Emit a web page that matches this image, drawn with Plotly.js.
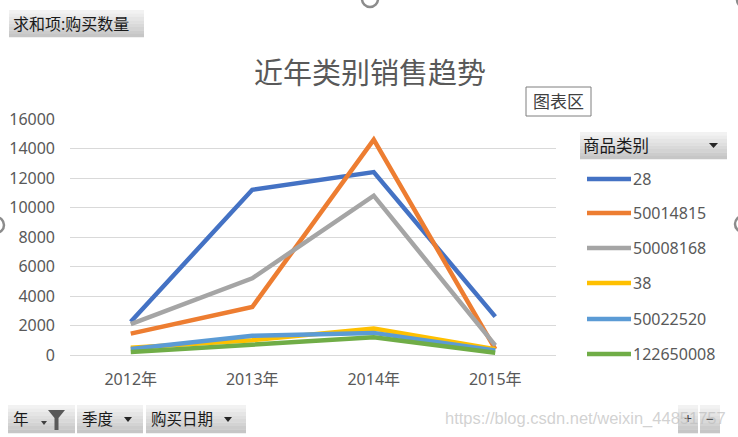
<!DOCTYPE html>
<html>
<head>
<meta charset="utf-8">
<script src="https://cdn.plot.ly/plotly-3.0.1.min.js"></script>
<style>html,body{margin:0;padding:0;background:#fff;}#chart{width:738px;height:437px;}</style>
</head>
<body>
<div id="chart"></div>
<script>
// ---- data ----
const categories = ['2012年', '2013年', '2014年', '2015年'];
const seriesNames = ['28', '50014815', '50008168', '38', '50022520', '122650008'];
const s28 = [2250, 11200, 12400, 2600];
const s50014815 = [1450, 3250, 14600, 400];
const s50008168 = [2100, 5200, 10800, 650];
const s38 = [500, 1000, 1800, 400];
const s50022520 = [400, 1300, 1500, 300];
const s122650008 = [200, 700, 1200, 150];
const seriesValues = [s28, s50014815, s50008168, s38, s50022520, s122650008];
const colors = ['#4472C4', '#ED7D31', '#A5A5A5', '#FFC000', '#5B9BD5', '#70AD47'];
const yTicks = [0, 2000, 4000, 6000, 8000, 10000, 12000, 14000, 16000];

const chartTitle = '近年类别销售趋势';
const fieldButton = '求和项:购买数量';
const legendTitle = '商品类别';
const bottomButtons = ['年', '季度', '购买日期'];
const tipText = '图表区';
const watermark = 'https://blog.csdn.net/weixin_44851757';

// ---- geometry helpers ----
const W = 738, H = 437, L = 70, R = 182, T = 119, B = 82;
const PW = W - L - R, PH = H - T - B;
const X = px => (px - L) / PW;
const Y = py => (H - B - py) / PH;
const FONT = 'Noto Sans, Noto Sans CJK SC, sans-serif';

const traces = seriesNames.map((n, i) => ({
  type: 'scatter', mode: 'lines', name: n,
  x: categories, y: seriesValues[i],
  line: {color: colors[i], width: 4.5},
  hoverinfo: 'skip', showlegend: false
}));

const shapes = [];
const annotations = [];

function hex(c){return [parseInt(c.slice(1,3),16),parseInt(c.slice(3,5),16),parseInt(c.slice(5,7),16)];}
function mix(a,b,t){const A=hex(a),B2=hex(b);return 'rgb('+A.map((v,k)=>Math.round(v+(B2[k]-v)*t)).join(',')+')';}
function btn(x0, y0, x1, y1) {
  const n = 8;
  for (let k = 0; k < n; k++) {
    const ya = y0 + (y1 - y0) * k / n, yb = y0 + (y1 - y0) * (k + 1) / n;
    shapes.push({type: 'rect', xref: 'paper', yref: 'paper', x0: X(x0), x1: X(x1), y0: Y(ya), y1: Y(yb + 0.3),
      fillcolor: mix('#f2f2f2', '#c6c6c6', k / (n - 1)), line: {width: 0}});
  }
}
function path(pts, color) {
  const d = pts.map((p, k) => (k ? 'L' : 'M') + X(p[0]) + ',' + Y(p[1])).join(' ') + ' Z';
  shapes.push({type: 'path', xref: 'paper', yref: 'paper', path: d, fillcolor: color, line: {width: 0}});
}
function text(t, px, py, size, color, anchor, fam) {
  annotations.push({text: t, xref: 'paper', yref: 'paper', x: X(px), y: Y(py), showarrow: false,
    xanchor: anchor || 'left', yanchor: 'middle', font: {family: fam || FONT, size: size, color: color}});
}
function circ(cx, cy, r) {
  shapes.push({type: 'circle', xref: 'paper', yref: 'paper', x0: X(cx - r), x1: X(cx + r), y0: Y(cy + r), y1: Y(cy - r),
    fillcolor: '#ffffff', line: {color: '#8c8c8c', width: 2.5}});
}

// top field button
btn(9, 10, 144, 37);
text(fieldButton, 11, 23.5, 16, '#1a1a1a');

// chart area tooltip
shapes.push({type: 'rect', xref: 'paper', yref: 'paper', x0: X(526), x1: X(591), y0: Y(116), y1: Y(87),
  fillcolor: '#ffffff', line: {color: '#7f7f7f', width: 1}});
text(tipText, 558.5, 101.5, 17, '#404040', 'center');

// legend header
btn(580, 132, 727, 159);
text(legendTitle, 581, 145.5, 16.5, '#1a1a1a');
path([[709, 143], [718, 143], [713.5, 148]], '#262626');

// legend items
const legendY = [179, 213, 248, 283, 319, 354];
seriesNames.forEach((n, i) => {
  shapes.push({type: 'line', xref: 'paper', yref: 'paper', x0: X(587), x1: X(631), y0: Y(legendY[i]), y1: Y(legendY[i]),
    line: {color: colors[i], width: 4.5}});
  text(n, 631, legendY[i], 16, '#595959');
});

// bottom buttons
btn(8, 405, 75, 433);
btn(77, 405, 143, 433);
btn(146, 405, 246, 433);
text(bottomButtons[0], 11, 419, 15.5, '#1a1a1a');
text(bottomButtons[1], 80, 419, 15.5, '#1a1a1a');
text(bottomButtons[2], 149, 419, 15.5, '#1a1a1a');
path([[41, 421], [47, 421], [44, 425]], '#404040');
path([[48, 410], [65, 410], [58.5, 418], [58.5, 430], [54.5, 430], [54.5, 418]], '#595959');
path([[124, 417], [132, 417], [128, 422]], '#262626');
path([[224, 417], [232, 417], [228, 422]], '#262626');

// plus / minus buttons
btn(678, 405, 698, 433);
btn(700, 405, 720, 433);
text('+', 688, 418, 14, '#404040', 'center');
text('−', 710, 418, 14, '#404040', 'center');

// watermark
text(watermark, 728, 418, 16.5, 'rgba(190,190,190,0.7)', 'right', 'Liberation Sans Narrow, Liberation Sans, sans-serif');

// selection handles
circ(370, -1, 8);
circ(-4, 225, 8);
circ(743, 224, 8);
circ(744, 0, 7);

const layout = {
  width: W, height: H,
  margin: {l: L, r: R, t: T, b: B, pad: 0},
  paper_bgcolor: '#ffffff', plot_bgcolor: '#ffffff',
  font: {family: FONT, color: '#595959', size: 16},
  title: {text: chartTitle, x: 370 / W, y: 1 - 74 / H, xref: 'container', yref: 'container',
    xanchor: 'center', yanchor: 'middle', font: {family: FONT, size: 29, color: '#595959'}},
  xaxis: {type: 'category', range: [-0.5, 3.5], showgrid: false, zeroline: false,
    showline: false, ticks: '', tickfont: {size: 16, color: '#595959'}, ticklabelstandoff: 13, fixedrange: true},
  yaxis: {range: [0, 16000], tickvals: yTicks, ticktext: yTicks.map(String), showgrid: true,
    gridcolor: '#d9d9d9', gridwidth: 1, zeroline: true, zerolinecolor: '#d9d9d9', zerolinewidth: 1,
    showline: false, ticks: '', tickfont: {size: 16, color: '#595959'}, ticklabelstandoff: 14, fixedrange: true},
  shapes: shapes,
  annotations: annotations,
  showlegend: false
};

Plotly.newPlot('chart', traces, layout, {displayModeBar: false, staticPlot: true});
</script>
</body>
</html>
